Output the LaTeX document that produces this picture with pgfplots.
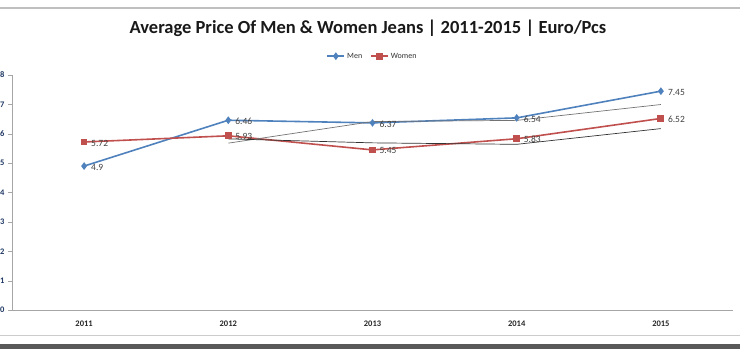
\documentclass[border=0pt]{standalone}
\usepackage{fontspec}
\setmainfont{Carlito}
\usepackage{pgfplots}
\pgfplotsset{compat=1.18}
\usetikzlibrary{calc}
\definecolor{menblue}{HTML}{4F81BD}
\definecolor{womenred}{HTML}{C0504D}
\definecolor{lbl}{HTML}{404040}
\definecolor{ytk}{HTML}{1F3864}
\begin{document}
\begin{tikzpicture}[x=1pt,y=1pt]
\begin{axis}[
  scale only axis,
  width=721pt, height=235pt,
  xmin=-0.5, xmax=4.5, ymin=0, ymax=8,
  axis lines*=left,
  axis line style={black!35, line width=0.8pt},
  xtick={0,1,2,3,4},
  xticklabels={2011,2012,2013,2014,2015},
  ytick={0,1,2,3,4,5,6,7,8},
  tick align=outside,
  major tick length=4pt,
  major x tick style={draw=none},
  major y tick style={black!35},
  /pgf/number format/assume math mode=true,
  x tick label style={font=\bfseries\fontsize{8.5}{10}\selectfont, text=black!85, yshift=-3pt},
  y tick label style={font=\bfseries\fontsize{8.5}{10}\selectfont, text=ytk},
  clip=false,
  legend style={at={(axis description cs:0.5,1.08)}, anchor=center, draw=none,
    font=\fontsize{8}{9}\selectfont, text=black!80, legend columns=2,
    /tikz/every even column/.append style={column sep=6pt}},
  legend cell align=left,
]
\coordinate (O) at (rel axis cs:0,0);
\addplot[menblue, line width=1.6pt, mark=diamond*, mark size=2.6pt,
  nodes near coords, point meta=explicit symbolic,
  nodes near coords style={anchor=west, font=\fontsize{9.5}{11}\selectfont, text=lbl, xshift=3pt, yshift=-1pt}]
  table[meta=l] {
x y l
0 4.9 4.9
1 6.46 6.46
2 6.37 6.37
3 6.54 6.54
4 7.45 7.45
};
\addlegendentry{Men}
\addplot[womenred, line width=1.6pt, mark=square*, mark size=2.6pt,
  nodes near coords, point meta=explicit symbolic,
  nodes near coords style={anchor=west, font=\fontsize{9.5}{11}\selectfont, text=lbl, xshift=3pt, yshift=-1pt}]
  table[meta=l] {
x y l
0 5.72 5.72
1 5.93 5.93
2 5.45 5.45
3 5.83 5.83
4 6.52 6.52
};
\addlegendentry{Women}
\addplot[black!55, line width=0.7pt, forget plot] coordinates {(1,5.68) (2,6.415) (3,6.455) (4,6.995)};
\addplot[black!80, line width=0.7pt, forget plot] coordinates {(1,5.825) (2,5.69) (3,5.64) (4,6.175)};
\end{axis}
\pgfresetboundingbox
\begin{scope}[shift={($(O)+(-12,-40)$)}]
\useasboundingbox (0,0) rectangle (740,350);
\draw[black!25, line width=1.5pt] (0,342) -- (740,342);
\draw[black!20, line width=1pt] (0,14) -- (740,14);
\fill[black!65] (0,1) rectangle (740,6);
\node[font=\bfseries\fontsize{18.5}{22}\selectfont, text=black!90] at (368,322) {Average Price Of Men \& Women Jeans | 2011-2015 | Euro/Pcs};
\end{scope}
\end{tikzpicture}
\end{document}
